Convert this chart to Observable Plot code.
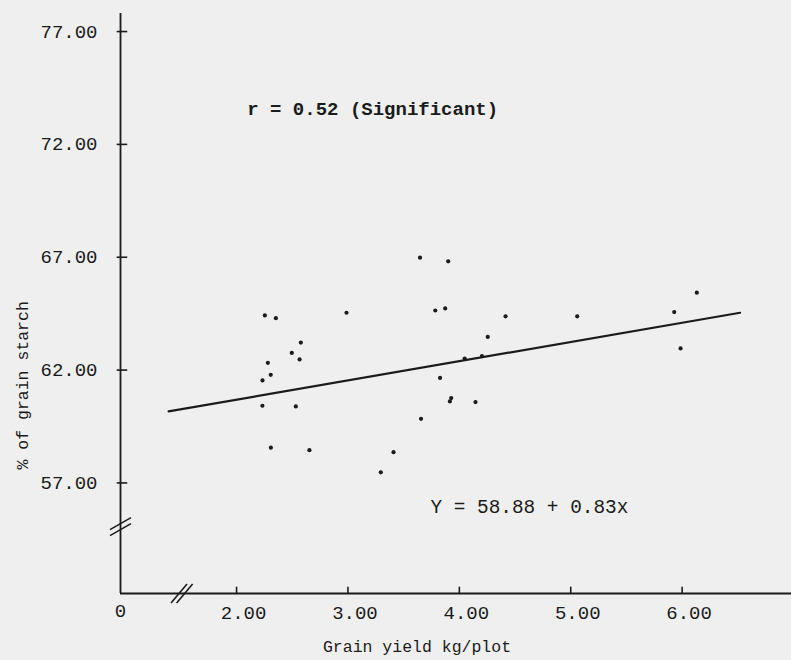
<!DOCTYPE html>
<html>
<head>
<meta charset="utf-8">
<script src="https://cdn.jsdelivr.net/npm/d3@7"></script>
<script src="https://cdn.jsdelivr.net/npm/@observablehq/plot@0.6"></script>
<style>
  html, body { margin: 0; padding: 0; background: #efefef; }
  #chart { width: 791px; height: 660px; }
</style>
</head>
<body>
<div id="chart"></div>
<script>
// ---- data ----
const grainYield = [2.254, 2.353, 2.987, 3.647, 3.900, 3.784, 3.873, 4.415, 5.058, 5.929,
                    6.132, 5.986, 2.577, 2.496, 2.566, 2.281, 2.307, 2.233, 3.827, 2.232,
                    2.532, 4.255, 3.656, 3.915, 3.927, 4.145, 2.308, 2.654, 3.409, 3.295,
                    4.048, 4.203];
const grainStarch = [64.42, 64.30, 64.54, 66.98, 66.82, 64.64, 64.73, 64.38, 64.38, 64.57,
                     65.43, 62.96, 63.22, 62.76, 62.47, 62.32, 61.79, 61.54, 61.65, 60.42,
                     60.39, 63.47, 59.84, 60.61, 60.76, 60.58, 58.56, 58.45, 58.36, 57.47,
                     62.51, 62.62];
const fitYield = [1.39, 6.52];      // ends of the drawn regression line
const fitStarch = [60.17, 64.54];
const xTicks = [2, 3, 4, 5, 6];
const yTicks = [57, 62, 67, 72, 77];
const xOriginLabel = "0";
const rLabel = "r = 0.52 (Significant)";
const eqLabel = "Y = 58.88 + 0.83x";
const xTitle = "Grain yield kg/plot";
const yTitle = "% of grain starch";

// ---- axis frame (broken axes) ----
const xAxisAt = 0.958, xEnd = 6.982;   // the y axis sits at the broken origin
const yAxisAt = 52.1,  yEnd = 77.8;
const xBreakAt = 1.513, yBreakAt = 55.04;
const rLabelAt = [2.096, 73.59];
const eqLabelAt = [3.741, 55.93];

const ink = "#1b1b1b";
const mono = "Liberation Mono, DejaVu Sans Mono, monospace";
const points = grainYield.map((x, i) => ({x, y: grainStarch[i]}));
const fit = fitYield.map((x, i) => ({x, y: fitStarch[i]}));

function breakMarks(index, scales) {
  const g = d3.create("svg:g").attr("stroke", ink).attr("stroke-width", 1.6).attr("fill", "none");
  const bx = scales.x(xBreakAt), by = scales.y(yAxisAt);
  for (const o of [-2.8, 2.8]) {
    g.append("line").attr("x1", bx + o - 8).attr("y1", by + 10).attr("x2", bx + o + 8).attr("y2", by - 9);
  }
  const ax = scales.x(xAxisAt), ay = scales.y(yBreakAt);
  for (const o of [-3, 3]) {
    g.append("line").attr("x1", ax - 10).attr("y1", ay + o + 6).attr("x2", ax + 11).attr("y2", ay + o - 6);
  }
  return g.node();
}

const chart = Plot.plot({
  width: 791,
  height: 660,
  marginLeft: 120,
  marginRight: 0,
  marginTop: 13,
  marginBottom: 67,
  x: {domain: [xAxisAt, xEnd]},
  y: {domain: [yAxisAt, yEnd]},
  style: {background: "#efefef", color: ink, fontFamily: mono},
  marks: [
    Plot.ruleX([xAxisAt], {y1: yAxisAt, y2: yEnd, stroke: ink, strokeWidth: 1.8}),
    Plot.ruleY([yAxisAt], {x1: xAxisAt, x2: xEnd, stroke: ink, strokeWidth: 1.8}),
    Plot.ruleY(yTicks, {y: d => d, x1: xAxisAt - 0.03, x2: xAxisAt + 0.065, stroke: ink, strokeWidth: 1.6}),
    Plot.ruleX(xTicks, {x: d => d, y1: yAxisAt, y2: yAxisAt + 0.28, stroke: ink, strokeWidth: 1.6}),
    Plot.axisX(xTicks, {tickSize: 0, tickPadding: 12, dx: 7, tickFormat: d => d.toFixed(2),
      fontSize: 19, fontFamily: mono, fill: ink, label: null}),
    Plot.axisY(yTicks, {tickSize: 0, tickPadding: 23, tickFormat: d => d.toFixed(2),
      fontSize: 19, fontFamily: mono, fill: ink, label: null}),
    Plot.text([xOriginLabel], {x: xAxisAt, y: yAxisAt, text: d => d, dy: 17, fontSize: 19, fontFamily: mono, fill: ink}),
    breakMarks,
    Plot.line(fit, {x: "x", y: "y", stroke: ink, strokeWidth: 2.2}),
    Plot.dot(points, {x: "x", y: "y", r: 2.1, fill: ink, stroke: "none"}),
    Plot.text([rLabel], {x: rLabelAt[0], y: rLabelAt[1], text: d => d, textAnchor: "start",
      fontSize: 19, fontWeight: "bold", fontFamily: mono, fill: ink}),
    Plot.text([eqLabel], {x: eqLabelAt[0], y: eqLabelAt[1], text: d => d, textAnchor: "start",
      fontSize: 19.4, fontFamily: mono, fill: ink}),
    Plot.text([xTitle], {frameAnchor: "bottom", text: d => d, dx: -39, dy: 58.7,
      fontSize: 16.5, fontFamily: mono, fill: ink}),
    Plot.text([yTitle], {frameAnchor: "left", text: d => d, rotate: -90, dx: -98, dy: 166,
      fontSize: 16.5, fontFamily: mono, fill: ink})
  ]
});
document.getElementById("chart").appendChild(chart);
</script>
</body>
</html>
